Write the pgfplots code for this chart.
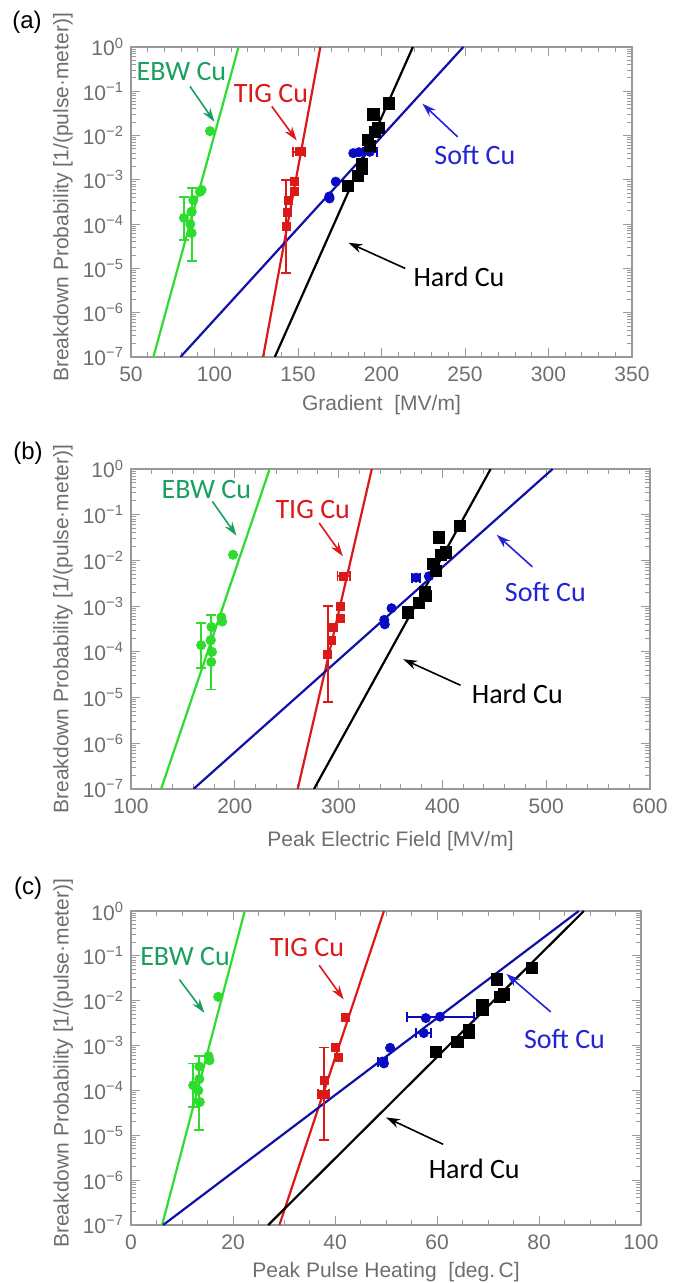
\documentclass[border=0pt]{standalone}
\usepackage{pgfplots}
\pgfplotsset{compat=1.18}
\usepackage{fontspec}
\setmainfont{Liberation Sans}
\newfontfamily\calib{Carlito}
\usetikzlibrary{arrows.meta}

\definecolor{fr}{HTML}{999999}
\definecolor{tk}{HTML}{6E6E6E}
\definecolor{cgreen}{RGB}{45,220,45}
\definecolor{tgreen}{RGB}{25,160,95}
\definecolor{cred}{RGB}{220,25,25}
\definecolor{cblue}{RGB}{15,15,170}
\definecolor{tblue}{RGB}{35,35,215}

\pgfplotsset{/pgf/number format/assume math mode=true}
\pgfplotsset{every axis/.append style={
  scale only axis, ymode=log, ymin=1e-7, ymax=1,
  axis line style={fr, line width=0.6pt},
  tick style={fr, line width=0.5pt},
  tick align=inside,
  major tick length=4.5pt, minor tick length=2.5pt,
  ytick={1e-7,1e-6,1e-5,1e-4,1e-3,1e-2,1e-1,1},
  yticklabels={10\textsuperscript{−7},10\textsuperscript{−6},10\textsuperscript{−5},10\textsuperscript{−4},10\textsuperscript{−3},10\textsuperscript{−2},10\textsuperscript{−1},10\textsuperscript{0}},
  tick label style={font=\fontsize{10.5}{12}\selectfont, text=tk},
  xticklabel style={yshift=-1.5pt},
  label style={font=\fontsize{10.5}{12}\selectfont, text=tk},
  ylabel={Breakdown Probability [1/(pulse·meter)]},
 }}
\tikzset{
 ann/.style={font=\calib\fontsize{14}{16}\selectfont},
 arr/.style={line width=0.8pt, -{Stealth[length=7pt,width=4.5pt]}},
}
\pgfplotsset{
 fitline/.style={line width=1.1pt, no marks},
 gpt/.style={only marks, mark=*, mark size=2.3pt, color=cgreen},
 rpt/.style={only marks, mark=square*, mark size=2pt, color=cred},
 bpt/.style={only marks, mark=*, mark size=2.3pt, color=cblue!70!blue},
 kpt/.style={only marks, mark=square*, mark size=2.8pt, color=black},
 error bars/ebs/.style={error bar style={line width=0.9pt}, error mark options={rotate=90, line width=0.9pt, mark size=2.5pt}},
}

\begin{document}
\begin{tikzpicture}
\useasboundingbox (0,0) rectangle (337.5pt,641.5pt);
\node[font=\fontsize{12}{14}\selectfont] at (13.5pt,630.5pt) {(a)};
\node[font=\fontsize{12}{14}\selectfont] at (14pt,415pt) {(b)};
\node[font=\fontsize{12}{14}\selectfont] at (14pt,197.5pt) {(c)};

% ---------------- (a)
\begin{axis}[at={(65.5pt,463pt)}, anchor=south west, width=250.5pt, height=155pt,
  xmin=50, xmax=350, xtick={50,100,...,350}, minor x tick num=4,
  y label style={rotate=0, anchor=center, at={(axis description cs:-0.136,0.515)}},
  x label style={anchor=center, at={(axis description cs:0.5,0)}, yshift=-24pt},
  xlabel={Gradient\ \ [MV/m]}]
\addplot[fitline, cgreen] coordinates {(63.4,1e-7) (114.4,1)};
\addplot[fitline, cred] coordinates {(129.1,1e-7) (163.4,1)};
\addplot[fitline, black] coordinates {(136.1,1e-7) (218.8,1)};
\addplot[fitline, cblue] coordinates {(79.6,1e-7) (249.0,1)};
\addplot[gpt] coordinates {(97.3,0.0126) (86.3,1.9e-4) (87.3,3.5e-4) (86.3,6.3e-5) (85.5,1.0e-4) (91.3,5.4e-4) (92.3,5.9e-4)};
\addplot[gpt, error bars/.cd, ebs, y dir=both, y explicit] coordinates {
 (81.7,1.38e-4) += (0,2.7e-4) -= (0,9.4e-5)
 (86.3,1.9e-4) += (0,4.7e-4) -= (0,1.75e-4)};
\addplot[rpt] coordinates {(147.8,9.1e-4) (147.8,5.4e-4) (143.6,1.8e-4) (144.2,3.5e-4)};
\addplot[rpt, error bars/.cd, ebs, y dir=both, y explicit] coordinates {
 (142.8,8.8e-5) += (0,9.1e-4) -= (0,8.0e-5)};
\addplot[rpt, error bars/.cd, ebs, x dir=both, x explicit] coordinates {
 (150.7,4.3e-3) +- (3.6,0)};
\addplot[bpt] coordinates {(172.6,9.1e-4) (168.7,4.2e-4) (168.9,3.8e-4) (183.1,4.0e-3) (186.5,4.2e-3)};
\addplot[bpt, error bars/.cd, ebs, x dir=both, x explicit] coordinates {
 (193,4.3e-3) +- (4.2,0)};
\addplot[kpt] coordinates {(180.1,7.2e-4) (185.7,1.23e-3) (188.1,1.74e-3) (188.5,2.3e-3) (191.7,7.9e-3) (193.1,5.8e-3) (195.1,0.030) (196.1,0.0123) (198.1,0.0146) (204.5,0.053)};
\node[ann, text=tgreen] at (axis cs:80.2,0.282) {EBW Cu};
\draw[arr, tgreen] (axis cs:85.3,0.129) -- (axis cs:100,0.0204);
\node[ann, text=cred] at (axis cs:133.8,0.0891) {TIG Cu};
\draw[arr, cred] (axis cs:134.3,0.0457) -- (axis cs:149.2,0.00776);
\node[ann, text=tblue] at (axis cs:255.9,0.00355) {Soft Cu};
\draw[arr, tblue] (axis cs:245.6,0.00933) -- (axis cs:224.5,0.0525);
\node[ann, text=black] at (axis cs:246.4,6.46e-6) {Hard Cu};
\draw[arr, black] (axis cs:214.2,1e-5) -- (axis cs:180.2,3.8e-5);
\end{axis}

% ---------------- (b)
\begin{axis}[at={(65.5pt,247pt)}, anchor=south west, width=259.5pt, height=160pt,
  xmin=100, xmax=600, xtick={100,200,...,600}, minor x tick num=4,
  y label style={rotate=0, anchor=center, at={(axis description cs:-0.131,0.5)}},
  x label style={anchor=center, at={(axis description cs:0.5,0)}, yshift=-26pt},
  xlabel={Peak Electric Field [MV/m]}]
\addplot[fitline, cgreen] coordinates {(129.0,1e-7) (233.6,1)};
\addplot[fitline, cred] coordinates {(260.6,1e-7) (332.0,1)};
\addplot[fitline, black] coordinates {(276.3,1e-7) (446.5,1)};
\addplot[fitline, cblue] coordinates {(160.2,1e-7) (506.2,1)};
\addplot[gpt] coordinates {(198.3,0.0133) (176.8,1.8e-4) (177.5,3.5e-4) (177.3,6e-5) (178,1.0e-4) (187.1,5.7e-4) (187.8,4.6e-4)};
\addplot[gpt, error bars/.cd, ebs, y dir=both, y explicit] coordinates {
 (167.6,1.4e-4) += (0,2.8e-4) -= (0,9.6e-5)
 (176.8,1.8e-4) += (0,4.6e-4) -= (0,1.65e-4)};
\addplot[rpt] coordinates {(302,1e-3) (301.8,5.3e-4) (293,1.8e-4) (294.6,3.5e-4)};
\addplot[rpt, error bars/.cd, ebs, y dir=both, y explicit] coordinates {
 (289.6,8.9e-5) += (0,9.1e-4) -= (0,8.1e-5)};
\addplot[rpt, error bars/.cd, ebs, x dir=both, x explicit] coordinates {
 (305,4.5e-3) +- (6,0)};
\addplot[bpt] coordinates {(351,9e-4) (344,5e-4) (344.5,4e-4) (387,4.5e-3)};
\addplot[bpt, error bars/.cd, ebs, x dir=both, x explicit] coordinates {
 (374.7,4.2e-3) +- (4,0)};
\addplot[kpt] coordinates {(366.4,7.3e-4) (377.6,1.2e-3) (383,2e-3) (383.8,1.7e-3) (391.3,8.3e-3) (393.4,5.8e-3) (396.7,0.032) (398.3,0.0133) (403.7,0.015) (416.6,0.057)};
\node[ann, text=tgreen] at (axis cs:172.6,0.355) {EBW Cu};
\draw[arr, tgreen] (axis cs:178.4,0.195) -- (axis cs:201.7,0.0347);
\node[ann, text=cred] at (axis cs:275.1,0.129) {TIG Cu};
\draw[arr, cred] (axis cs:281.3,0.066) -- (axis cs:304.1,0.0123);
\node[ann, text=tblue] at (axis cs:499.2,0.002) {Soft Cu};
\draw[arr, tblue] (axis cs:486.7,0.00724) -- (axis cs:452.3,0.0363);
\node[ann, text=black] at (axis cs:472.2,1.2e-5) {Hard Cu};
\draw[arr, black] (axis cs:417.4,1.86e-5) -- (axis cs:362.2,6.9e-5);
\end{axis}

% ---------------- (c)
\begin{axis}[at={(65.5pt,29pt)}, anchor=south west, width=255pt, height=157pt,
  xmin=0, xmax=100, xtick={0,20,...,100}, minor x tick num=3,
  y label style={rotate=0, anchor=center, at={(axis description cs:-0.133,0.515)}},
  x label style={anchor=center, at={(axis description cs:0.5,0)}, yshift=-23.5pt},
  xlabel={Peak Pulse Heating\ \ [deg.\,C]}]
\addplot[fitline, cgreen] coordinates {(6.1,1e-7) (22.3,1)};
\addplot[fitline, cred] coordinates {(29.1,1e-7) (49.6,1)};
\addplot[fitline, black] coordinates {(26.9,1e-7) (88.8,1)};
\addplot[fitline, cblue] coordinates {(6.3,1e-7) (87.8,1)};
\addplot[gpt] coordinates {(17.1,0.0122) (13.4,3.4e-4) (13.5,5.5e-5) (13.2,1.0e-4) (15.2,5.8e-4) (15.4,4.7e-4)};
\addplot[gpt, error bars/.cd, ebs, y dir=both, y explicit] coordinates {
 (12.2,1.3e-4) += (0,2.7e-4) -= (0,8.7e-5)
 (13.4,1.8e-4) += (0,4.0e-4) -= (0,1.67e-4)};
\addplot[rpt] coordinates {(42,4.3e-3) (40,9.2e-4) (40.6,5.5e-4) (38,1.7e-4)};
\addplot[rpt, error bars/.cd, ebs, y dir=both, y explicit, x dir=both, x explicit] coordinates {
 (37.8,8.3e-5) += (1.1,8.2e-4) -= (1.1,7.5e-5)};
\addplot[bpt] coordinates {(50.8,8.9e-4) (49.6,4.0e-4) (57.8,4.1e-3)};
\addplot[bpt, error bars/.cd, ebs, x dir=both, x explicit] coordinates {
 (49.3,4.4e-4) +- (0.9,0)
 (57.4,1.9e-3) +- (1.5,0)};
\addplot[bpt, error bars/.cd, ebs, x dir=both, x explicit] coordinates {
 (60.6,4.4e-3) += (6.7,0) -= (6.5,0)};
\addplot[kpt] coordinates {(59.8,7.3e-4) (64,1.2e-3) (66.3,1.9e-3) (66.3,2.2e-3) (68.9,6.2e-3) (68.9,8e-3) (71.8,0.030) (72.4,0.0123) (73.1,0.0138) (78.6,0.053)};
\node[ann, text=tgreen] at (axis cs:10.6,0.0955) {EBW Cu};
\draw[arr, tgreen] (axis cs:9.5,0.0295) -- (axis cs:14.4,0.00537);
\node[ann, text=cred] at (axis cs:34.5,0.151) {TIG Cu};
\draw[arr, cred] (axis cs:36.9,0.0617) -- (axis cs:41.7,0.0107);
\node[ann, text=tblue] at (axis cs:85.0,0.00138) {Soft Cu};
\draw[arr, tblue] (axis cs:82.3,0.00562) -- (axis cs:73.6,0.0398);
\node[ann, text=black] at (axis cs:67.3,1.82e-6) {Hard Cu};
\draw[arr, black] (axis cs:61.2,6.3e-6) -- (axis cs:50.0,2.5e-5);
\end{axis}
\end{tikzpicture}
\end{document}
